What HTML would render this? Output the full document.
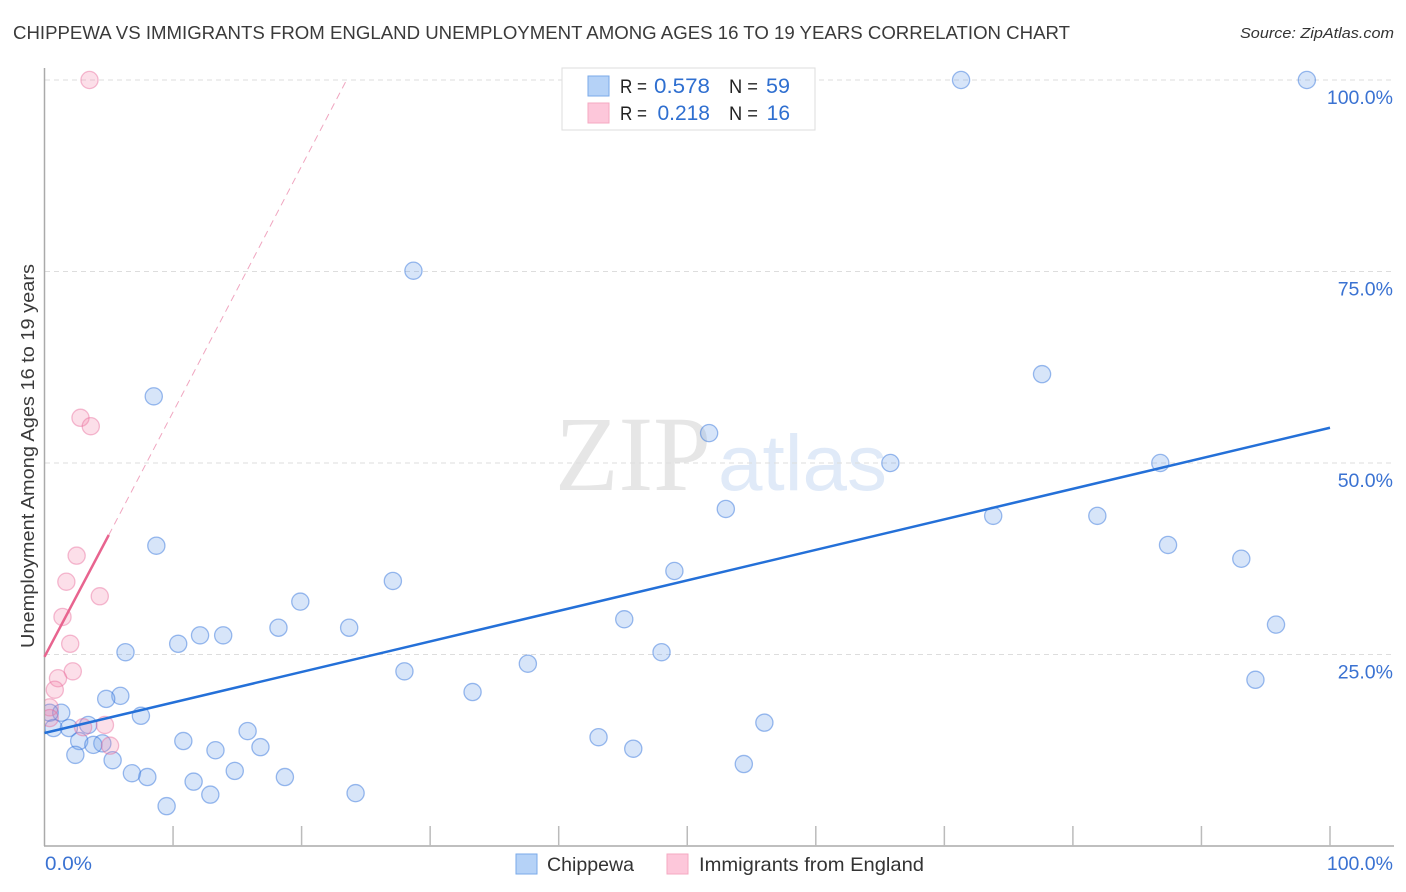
<!DOCTYPE html>
<html>
<head>
<meta charset="utf-8">
<title>Chippewa vs Immigrants from England correlation chart</title>
<style>
html,body{margin:0;padding:0;background:#fff;}
svg{display:block;font-family:"Liberation Sans",sans-serif;}
</style>
</head>
<body>
<svg id="chart" xmlns="http://www.w3.org/2000/svg" width="1406" height="892" viewBox="0 0 1406 892">
  <defs><clipPath id="plot-clip"><rect x="45" y="60" width="1349" height="786"/></clipPath></defs>
  <rect width="1406" height="892" fill="#fff"/>
  <text x="13" y="39" font-size="18.5" fill="#3a3a3a" textLength="1057" lengthAdjust="spacingAndGlyphs">CHIPPEWA VS IMMIGRANTS FROM ENGLAND UNEMPLOYMENT AMONG AGES 16 TO 19 YEARS CORRELATION CHART</text>
  <text x="1394" y="38" font-size="15" font-style="italic" fill="#333" text-anchor="end" textLength="154" lengthAdjust="spacingAndGlyphs">Source: ZipAtlas.com</text>
  <g>
    <text x="555" y="490" font-family="'Liberation Serif',serif" font-size="107" fill="#e6e6e6" textLength="156" lengthAdjust="spacingAndGlyphs">ZIP</text>
    <text x="718" y="490" font-size="79" fill="#e0eaf8" textLength="169" lengthAdjust="spacingAndGlyphs">atlas</text>
  </g>
  <g id="grid"></g>
  <g id="axes"></g>
  <g id="points" clip-path="url(#plot-clip)"></g>
  <g id="trends"></g>
  <text transform="translate(34,456) rotate(-90)" font-size="18.5" fill="#3a3a3a" text-anchor="middle" textLength="384" lengthAdjust="spacingAndGlyphs">Unemployment Among Ages 16 to 19 years</text>
  <g>
    <rect x="562" y="68" width="253" height="62" fill="#fff" stroke="#ddd" stroke-width="1"/>
    <rect x="588" y="76" width="21" height="20" fill="#b5d2f7" stroke="#7aaae8"/>
    <rect x="588" y="103" width="21" height="20" fill="#fdc7da" stroke="#f5a9c2"/>
    <text x="620" y="93" font-size="19" fill="#222" textLength="27" lengthAdjust="spacingAndGlyphs">R =</text>
    <text x="654" y="93" font-size="21" fill="#2f6fd0" textLength="56" lengthAdjust="spacingAndGlyphs">0.578</text>
    <text x="729" y="93" font-size="19" fill="#222" textLength="29" lengthAdjust="spacingAndGlyphs">N =</text>
    <text x="766" y="93" font-size="21" fill="#2f6fd0" textLength="24" lengthAdjust="spacingAndGlyphs">59</text>
    <text x="620" y="120" font-size="19" fill="#222" textLength="27" lengthAdjust="spacingAndGlyphs">R =</text>
    <text x="710" y="120" font-size="21" fill="#2f6fd0" text-anchor="end">0.218</text>
    <text x="729" y="120" font-size="19" fill="#222" textLength="29" lengthAdjust="spacingAndGlyphs">N =</text>
    <text x="790" y="120" font-size="21" fill="#2f6fd0" text-anchor="end">16</text>
  </g>
  <g>
    <rect x="516" y="854" width="21" height="20" fill="#b5d2f7" stroke="#7aaae8"/>
    <text x="547" y="871" font-size="19.5" fill="#333" textLength="87" lengthAdjust="spacingAndGlyphs">Chippewa</text>
    <rect x="667" y="854" width="21" height="20" fill="#fdc7da" stroke="#f5a9c2"/>
    <text x="699" y="871" font-size="19.5" fill="#333" textLength="225" lengthAdjust="spacingAndGlyphs">Immigrants from England</text>
  </g>
</svg>
<script>
var xTicks = [0, 10, 20, 30, 40, 50, 60, 70, 80, 90, 100];
var yTickValues = [25, 50, 75, 100];
var yTickLabels = ['25.0%', '50.0%', '75.0%', '100.0%'];
var xEdgeLabels = ['0.0%', '100.0%'];
var chippewaX = [71.3,98.2,28.7,77.6,8.5,51.7,65.8,86.8,53.0,73.8,81.9,8.7,87.4,93.1,49.0,27.1,19.9,45.1,18.2,23.7,95.8,10.4,12.1,13.9,6.3,48.0,37.6,28.0,94.2,33.3,5.9,4.8,7.5,1.3,0.4,3.4,0.7,1.9,56.0,15.8,10.8,2.7,4.5,3.8,43.1,13.3,16.8,45.8,5.3,2.4,54.4,6.8,8.0,14.8,18.7,11.6,12.9,24.2,9.5];
var chippewaY = [100,100,75.1,61.6,58.7,53.9,50,50,44,43.1,43.1,39.2,39.3,37.5,35.9,34.6,31.9,29.6,28.5,28.5,28.9,26.4,27.5,27.5,25.3,25.3,23.8,22.8,21.7,20.1,19.6,19.2,17.0,17.4,17.4,15.8,15.4,15.4,16.1,15,13.7,13.7,13.4,13.2,14.2,12.5,12.9,12.7,11.2,11.9,10.7,9.5,9,9.8,9,8.4,6.7,6.9,5.2];
var englandX = [3.5,2.8,3.6,2.5,1.7,4.3,1.4,2.0,2.2,1.05,0.8,0.4,0.4,3.0,4.7,5.1];
var englandY = [100,55.9,54.8,37.9,34.5,32.6,29.9,26.4,22.8,21.9,20.4,18.1,16.7,15.5,15.8,13.1];
var chippewaTrendX = [0, 100];
var chippewaTrendY = [14.75, 54.6];
var englandTrendX = [0, 5];
var englandTrendY = [24.7, 40.6];
var englandDashX = [5, 23.5];
var englandDashY = [40.6, 100];

var NS = 'http://www.w3.org/2000/svg';
function sx(v) { return 44.5 + v * 12.855; }
function sy(v) { return 846 - v * 7.66; }
function make(parent, tag, attrs) {
  var el = document.createElementNS(NS, tag);
  for (var k in attrs) { el.setAttribute(k, attrs[k]); }
  parent.appendChild(el);
  return el;
}
var grid = document.getElementById('grid');
var axes = document.getElementById('axes');
var points = document.getElementById('points');
var trends = document.getElementById('trends');

yTickValues.forEach(function (v, i) {
  var g = make(grid, 'line', { x1: 45, x2: 1394, y1: sy(v), y2: sy(v), stroke: '#ddd', 'stroke-width': 1, 'stroke-dasharray': '5,4' });
  
  
  var t = make(axes, 'text', { x: 1393, y: sy(v) + 24, 'text-anchor': 'end', 'font-size': 19.5, fill: '#3a72d2' });
  t.textContent = yTickLabels[i];
  
  
});

var yAxis = make(axes, 'line', { x1: 44.5, x2: 44.5, y1: 68, y2: 846, stroke: '#aaa', 'stroke-width': 1.5 });


var xAxis = make(axes, 'line', { x1: 44, x2: 1394, y1: 846, y2: 846, stroke: '#aaa', 'stroke-width': 1.5 });



xTicks.slice(1).forEach(function (v) {
  var tk = make(axes, 'line', { x1: sx(v), x2: sx(v), y1: 826, y2: 846, stroke: '#bbb', 'stroke-width': 1.5 });
  
  
});

var x0 = make(axes, 'text', { x: 45, y: 870, 'font-size': 19.5, fill: '#3a72d2', textLength: 47, lengthAdjust: 'spacingAndGlyphs' });
x0.textContent = xEdgeLabels[0];


var x1 = make(axes, 'text', { x: 1393, y: 870, 'text-anchor': 'end', 'font-size': 19.5, fill: '#3a72d2' });
x1.textContent = xEdgeLabels[1];



chippewaX.forEach(function (v, i) {
  var c = make(points, 'circle', { cx: sx(v), cy: sy(chippewaY[i]), r: 8.6, fill: 'rgba(110,160,235,0.28)', stroke: 'rgba(50,115,220,0.48)', 'stroke-width': 1.3 });
  
  
});
englandX.forEach(function (v, i) {
  var c = make(points, 'circle', { cx: sx(v), cy: sy(englandY[i]), r: 8.6, fill: 'rgba(245,130,170,0.26)', stroke: 'rgba(232,100,150,0.42)', 'stroke-width': 1.3 });
  
  
});

var dash = make(trends, 'line', { x1: sx(englandDashX[0]), y1: sy(englandDashY[0]), x2: sx(englandDashX[1]), y2: sy(englandDashY[1]), stroke: '#f0a6c0', 'stroke-width': 1, 'stroke-dasharray': '7,5' });


var pinkLine = make(trends, 'line', { x1: sx(englandTrendX[0]), y1: sy(englandTrendY[0]), x2: sx(englandTrendX[1]), y2: sy(englandTrendY[1]), stroke: '#e8648f', 'stroke-width': 2.5 });


var blueLine = make(trends, 'line', { x1: sx(chippewaTrendX[0]), y1: sy(chippewaTrendY[0]), x2: sx(chippewaTrendX[1]), y2: sy(chippewaTrendY[1]), stroke: '#2470d8', 'stroke-width': 2.5 });


</script>
</body>
</html>
